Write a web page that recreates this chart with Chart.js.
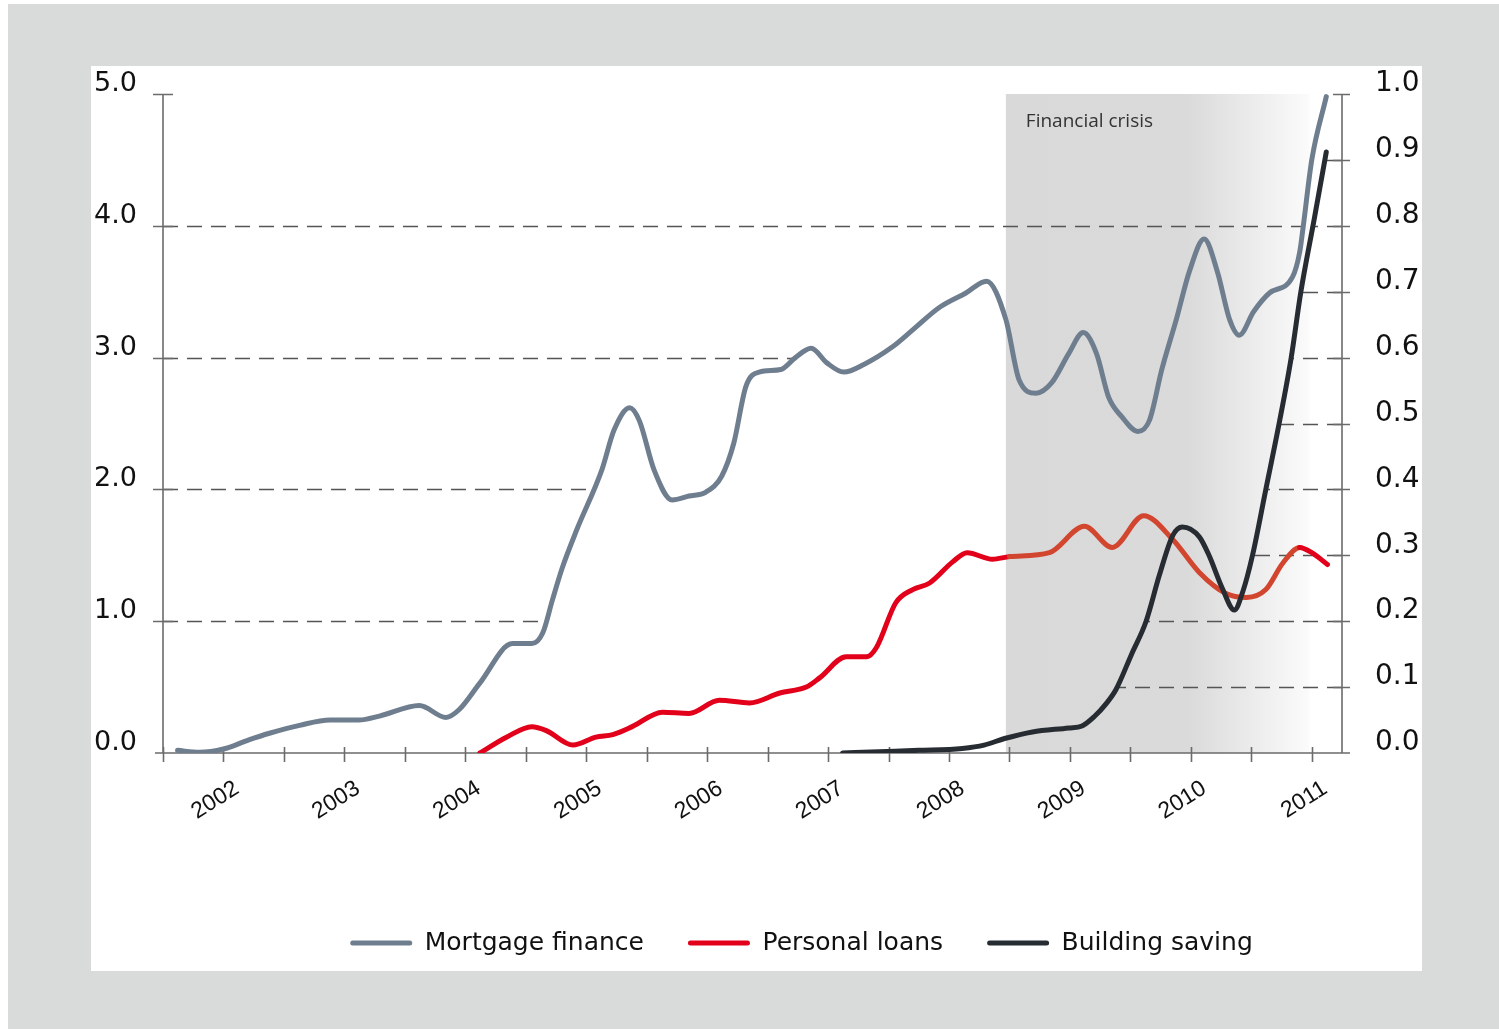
<!DOCTYPE html>
<html>
<head>
<meta charset="utf-8">
<title>Mortgage finance, personal loans and building saving</title>
<script src="https://cdn.jsdelivr.net/npm/chart.js@4.4.1/dist/chart.umd.min.js"></script>
<style>
    body { margin: 0; background: #ffffff; }
    #frame { position: absolute; left: 8px; top: 4px; width: 1491px; height: 1025px; background: #d9dbdb; }
    #panel { position: absolute; left: 83px; top: 62px; width: 1331px; height: 905px; background: #ffffff; overflow: hidden; }
</style>
</head>
<body>
<div id="frame"><div id="panel"><canvas id="chartLine" width="1331" height="905"></canvas></div></div>
<script>
// values (x in years, mortgage + loans on the left axis, building saving on the right one)
const mortgageYears = [2001.62, 2001.80, 2002.00, 2002.21, 2002.38, 2002.63, 2002.88, 2003.12, 2003.29, 2003.62,
    2003.84, 2003.95, 2004.12, 2004.39, 2004.55, 2004.64, 2004.72, 2004.80, 2004.92, 2005.13,
    2005.23, 2005.36, 2005.44, 2005.56, 2005.71, 2005.85, 2005.99, 2006.12, 2006.22, 2006.32,
    2006.43, 2006.61, 2006.73, 2006.86, 2006.99, 2007.13, 2007.30, 2007.53, 2007.70, 2007.92,
    2008.14, 2008.31, 2008.47, 2008.58, 2008.72, 2008.85, 2008.99, 2009.11, 2009.22, 2009.32,
    2009.43, 2009.56, 2009.66, 2009.76, 2009.88, 2009.99, 2010.11, 2010.22, 2010.32, 2010.40,
    2010.52, 2010.65, 2010.84, 2010.90, 2010.93, 2011.00, 2011.12];
const mortgageValues = [0.02, 0.005, 0.03, 0.10, 0.15, 0.21, 0.25, 0.25, 0.28, 0.36,
    0.27, 0.33, 0.53, 0.83, 0.83, 0.91, 1.16, 1.40, 1.69, 2.15,
    2.45, 2.62, 2.52, 2.15, 1.92, 1.95, 1.98, 2.10, 2.35, 2.78,
    2.89, 2.91, 3.00, 3.07, 2.96, 2.89, 2.95, 3.08, 3.21, 3.38,
    3.49, 3.58, 3.29, 2.83, 2.73, 2.81, 3.03, 3.19, 3.03, 2.70,
    2.55, 2.44, 2.53, 2.91, 3.29, 3.66, 3.90, 3.65, 3.29, 3.17,
    3.35, 3.49, 3.61, 3.80, 4.00, 4.50, 4.98];

const loanYears = [2004.12, 2004.34, 2004.55, 2004.67, 2004.89, 2005.08, 2005.22, 2005.38, 2005.63, 2005.85,
    2006.10, 2006.35, 2006.60, 2006.82, 2006.93, 2007.15, 2007.32, 2007.40, 2007.56, 2007.70,
    2007.84, 2008.03, 2008.15, 2008.36, 2008.50, 2008.83, 2009.12, 2009.35, 2009.61, 2009.85,
    2010.07, 2010.29, 2010.46, 2010.62, 2010.76, 2010.90, 2011.00, 2011.13];
const loanValues = [0.00, 0.12, 0.20, 0.17, 0.06, 0.12, 0.14, 0.20, 0.31, 0.30,
    0.40, 0.38, 0.455, 0.50, 0.57, 0.73, 0.73, 0.80, 1.14, 1.24,
    1.29, 1.45, 1.52, 1.47, 1.49, 1.52, 1.72, 1.56, 1.80, 1.62,
    1.37, 1.21, 1.18, 1.24, 1.44, 1.56, 1.52, 1.43];

const savingYears = [2007.12, 2007.42, 2007.75, 2008.11, 2008.29, 2008.46, 2008.69, 2008.99, 2009.10, 2009.20,
    2009.30, 2009.38, 2009.51, 2009.63, 2009.74, 2009.85, 2009.93, 2010.07, 2010.15, 2010.26,
    2010.36, 2010.43, 2010.51, 2010.62, 2010.73, 2010.83, 2010.91, 2011.02, 2011.12];
const savingValues = [0.000, 0.002, 0.004, 0.007, 0.012, 0.022, 0.032, 0.038, 0.041, 0.055,
    0.075, 0.096, 0.150, 0.200, 0.270, 0.330, 0.343, 0.328, 0.300, 0.250,
    0.217, 0.245, 0.300, 0.400, 0.500, 0.600, 0.700, 0.810, 0.912];

const yearLabels = [2002, 2003, 2004, 2005, 2006, 2007, 2008, 2009, 2010, 2011];
const leftTicks = [1, 2, 3, 4];
const rightTicks = [0.1, 0.2, 0.3, 0.4, 0.5, 0.6, 0.7, 0.8, 0.9];
const crisisStart = 2008.47;
const crisisEnd = 2010.98;
const crisisLabel = "Financial crisis";

const mortgageGrey = "#6f7e8f";
const loanRed = "#e2001a";
const loanRedCrisis = "#d2452f";
const savingDark = "#272c33";
const axisGrey = "#6b6b6b";

Chart.defaults.font.family = "'DejaVu Sans', sans-serif";
Chart.defaults.color = "#111111";

function toPoints(xs, ys) {
    return xs.map((x, i) => ({ x: x, y: ys[i] }));
}

// first place (from the left) where the series reaches a level
function firstCrossing(xs, vs, level) {
    for (let i = 1; i < vs.length; i++) {
        if (vs[i - 1] < level && vs[i] >= level) {
            return xs[i - 1] + (xs[i] - xs[i - 1]) * (level - vs[i - 1]) / (vs[i] - vs[i - 1]);
        }
    }
    return xs[xs.length - 1];
}

// last place (from the right) where the series crosses a level
function lastCrossing(xs, vs, level) {
    for (let i = vs.length - 1; i > 0; i--) {
        if ((vs[i - 1] - level) * (vs[i] - level) <= 0 && vs[i - 1] !== vs[i]) {
            return xs[i - 1] + (xs[i] - xs[i - 1]) * (level - vs[i - 1]) / (vs[i] - vs[i - 1]);
        }
    }
    return xs[0];
}

function fixWidth(width) {
    return s => {
        s.width = width;
        s.paddingTop = 0;
        s.paddingBottom = 0;
    };
}

const chartFrame = {
    id: "chartFrame",
    afterLayout(chart) {
        // legend sits a bit right of centre in the original
        chart.legend.left += 45;
        chart.legend.right += 45;
    },
    beforeDatasetsDraw(chart) {
        const ctx = chart.ctx;
        const area = chart.chartArea;
        const x = chart.scales.x;
        const y = chart.scales.y;
        const y1 = chart.scales.y1;

        // shaded crisis band, fading out to the right
        const bx0 = x.getPixelForValue(crisisStart);
        const bx1 = x.getPixelForValue(crisisEnd);
        ctx.save();
        const grad = ctx.createLinearGradient(bx0, 0, bx1, 0);
        grad.addColorStop(0, "#d9d9d9");
        grad.addColorStop(0.6, "#dadada");
        grad.addColorStop(1, "#fbfbfb");
        ctx.fillStyle = grad;
        ctx.fillRect(bx0, area.top, bx1 - bx0, area.bottom - area.top);
        ctx.fillStyle = "#333333";
        ctx.font = "19px 'Open Sans'";
        ctx.textBaseline = "alphabetic";
        ctx.fillText(crisisLabel, bx0 + 20, area.top + 33);

        // dashed guide lines: left ones stop at mortgage line, right ones at building saving line
        ctx.strokeStyle = "#555555";
        ctx.lineWidth = 1.5;
        ctx.setLineDash([15, 9]);
        leftTicks.forEach(v => {
            const py = Math.round(y.getPixelForValue(v)) + 0.5;
            const px = x.getPixelForValue(firstCrossing(mortgageYears, mortgageValues, v));
            ctx.beginPath();
            ctx.moveTo(area.left, py);
            ctx.lineTo(px, py);
            ctx.stroke();
        });
        rightTicks.forEach(v => {
            const py = Math.round(y1.getPixelForValue(v)) + 0.5;
            const px = x.getPixelForValue(lastCrossing(savingYears, savingValues, v));
            ctx.beginPath();
            ctx.moveTo(area.right, py);
            ctx.lineTo(px, py);
            ctx.stroke();
        });
        ctx.setLineDash([]);

        // axes and tick marks
        ctx.strokeStyle = axisGrey;
        ctx.lineWidth = 1.6;
        ctx.beginPath();
        ctx.moveTo(area.left - 8, area.bottom);
        ctx.lineTo(area.right + 8, area.bottom);
        ctx.moveTo(area.left, area.top);
        ctx.lineTo(area.left, area.bottom);
        ctx.moveTo(area.right, area.top);
        ctx.lineTo(area.right, area.bottom);
        x.ticks.forEach(t => {
            if (Number.isInteger(t.value * 2)) {
                const px = Math.round(x.getPixelForValue(t.value)) + 0.5;
                ctx.moveTo(px, area.bottom - 6);
                ctx.lineTo(px, area.bottom + 9);
            }
        });
        y.ticks.forEach(t => {
            if (t.value === 0) return;
            const py = Math.round(y.getPixelForValue(t.value)) + 0.5;
            ctx.moveTo(area.left - 10, py);
            ctx.lineTo(area.left + 10, py);
        });
        y1.ticks.forEach(t => {
            if (t.value === 0) return;
            const py = Math.round(y1.getPixelForValue(t.value)) + 0.5;
            ctx.moveTo(area.right - 9, py);
            ctx.lineTo(area.right + 8, py);
        });
        ctx.stroke();
        ctx.restore();
    }
};

const dataLine = {
    datasets: [
        {
            label: "Mortgage finance",
            data: toPoints(mortgageYears, mortgageValues),
            borderColor: mortgageGrey,
            backgroundColor: mortgageGrey,
            yAxisID: "y",
            order: 1,
        },
        {
            label: "Personal loans",
            data: toPoints(loanYears, loanValues),
            borderColor: loanRed,
            backgroundColor: loanRed,
            segment: {
                borderColor: c => (c.p0.parsed.x >= crisisStart && c.p1.parsed.x <= crisisEnd) ? loanRedCrisis : loanRed,
            },
            yAxisID: "y",
            order: 2,
        },
        {
            label: "Building saving",
            data: toPoints(savingYears, savingValues),
            borderColor: savingDark,
            backgroundColor: savingDark,
            yAxisID: "y1",
            order: 0,
        },
    ],
};

const configLine = {
    type: "line",
    data: dataLine,
    options: {
        responsive: false,
        animation: false,
        layout: { padding: { top: 28, bottom: 5.5, left: 0, right: 0 } },
        elements: {
            point: { radius: 0 },
            line: { borderWidth: 5, cubicInterpolationMode: "monotone", borderCapStyle: "round", borderJoinStyle: "round" },
        },
        scales: {
            x: {
                type: "linear",
                min: 2001.5,
                max: 2011.25,
                grid: { display: false, drawTicks: false },
                border: { display: false },
                ticks: {
                    stepSize: 0.5,
                    includeBounds: false,
                    autoSkip: false,
                    minRotation: 32,
                    maxRotation: 32,
                    padding: 22,
                    labelOffset: 13.5,
                    font: { family: "'Liberation Sans', Arial, sans-serif", size: 23 },
                    callback: v => yearLabels.includes(v) ? String(v) : "",
                },
                afterFit: s => {
                    s.height = 133.5;
                    s.paddingLeft = 0;
                    s.paddingRight = 0;
                },
            },
            y: {
                position: "left",
                min: 0,
                max: 5,
                grid: { display: false, drawTicks: false },
                border: { display: false },
                ticks: { stepSize: 1, padding: 26, labelOffset: -10, font: { size: 27 }, callback: v => v.toFixed(1) },
                afterFit: fixWidth(72),
            },
            y1: {
                position: "right",
                min: 0,
                max: 1,
                grid: { display: false, drawTicks: false },
                border: { display: false },
                ticks: { stepSize: 0.1, padding: 33, labelOffset: -10, font: { size: 28 }, callback: v => v.toFixed(1) },
                afterFit: fixWidth(80),
            },
        },
        plugins: {
            legend: {
                position: "bottom",
                labels: {
                    boxWidth: 62,
                    boxHeight: 5,
                    padding: 44,
                    color: "#111111",
                    font: { size: 25 },
                    generateLabels: chart => Chart.defaults.plugins.legend.labels.generateLabels(chart)
                        .sort((a, b) => a.datasetIndex - b.datasetIndex)
                        .map(item => {
                            item.fillStyle = item.strokeStyle;
                            item.lineWidth = 0;
                            item.borderRadius = 2.5;
                            return item;
                        }),
                },
            },
            tooltip: { enabled: false },
        },
    },
    plugins: [chartFrame],
};

var chartLine = new Chart(document.getElementById("chartLine"), configLine);
</script>
</body>
</html>
